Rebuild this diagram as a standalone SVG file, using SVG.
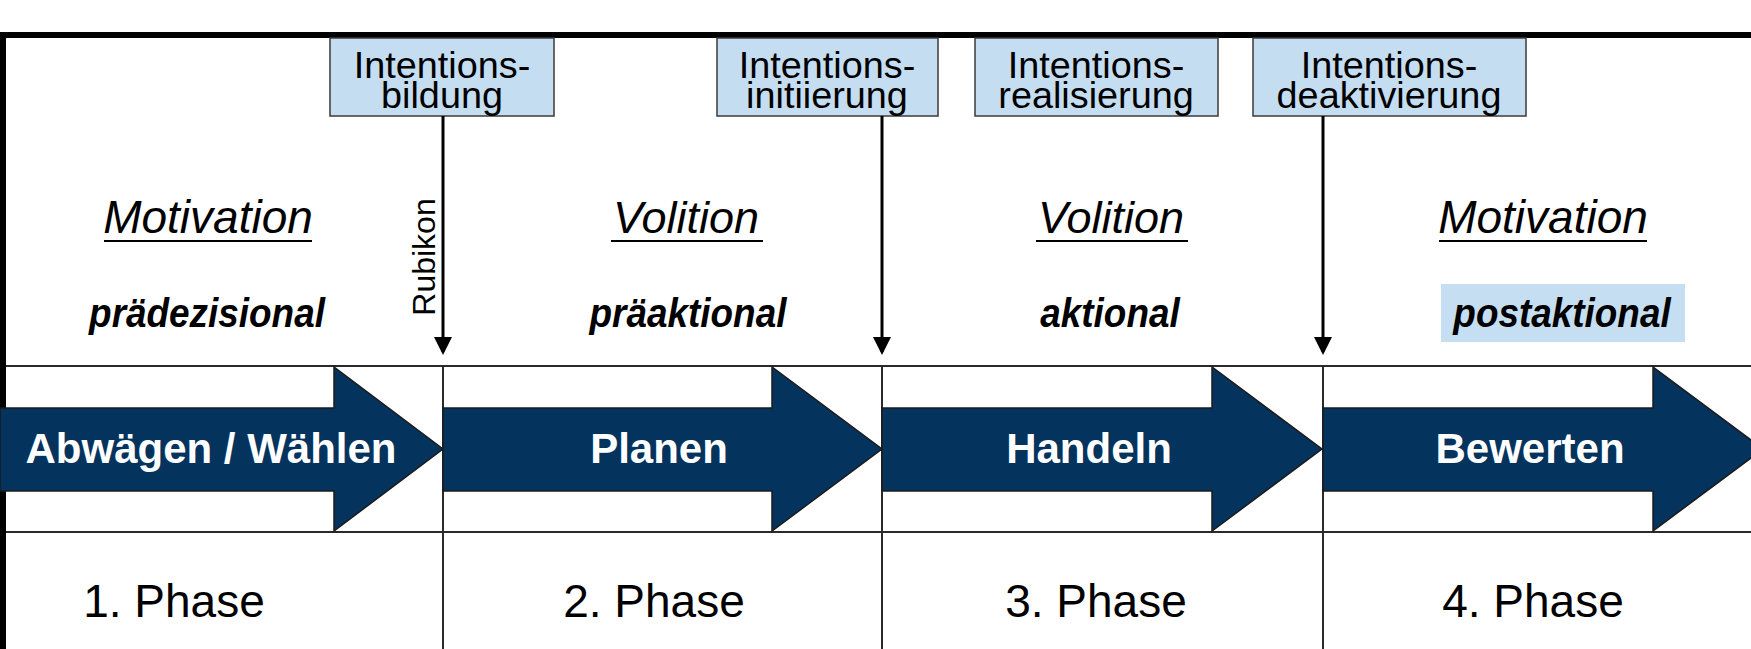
<svg xmlns="http://www.w3.org/2000/svg" width="1751" height="649" viewBox="0 0 1751 649">
<style>
text{font-family:"Liberation Sans",Arial,sans-serif}
.box{fill:#C5DDF1;stroke:#3a3a3a;stroke-width:1.5}
.bt{font-size:36px;fill:#000;text-anchor:middle}
.mot{font-size:46px;font-style:italic;text-anchor:middle}
.vol{font-size:45px;font-style:italic;text-anchor:middle}
.sub{font-size:41px;font-style:italic;font-weight:bold;text-anchor:middle}
.arr{fill:#04335E;stroke:#1b1b1b;stroke-width:1.5}
.at{font-size:42px;font-weight:bold;fill:#fff;text-anchor:middle}
.ph{font-size:46px;text-anchor:middle}
.grid{stroke:#2a2a2a;stroke-width:2;fill:none}
.vl{stroke:#000;stroke-width:3}
.ul{stroke:#000;stroke-width:2}
</style>
<defs>
<marker id="ah" markerWidth="6" markerHeight="6" refX="5" refY="3" orient="auto" markerUnits="strokeWidth"><path d="M0,0 L6,3 L0,6 z" fill="#000"/></marker>
</defs>
<rect x="0" y="0" width="1751" height="649" fill="#fff"/>
<g id="frame">
<line class="grid" x1="0" y1="366" x2="1751" y2="366"/>
<line class="grid" x1="0" y1="532" x2="1751" y2="532"/>
<line class="grid" x1="443" y1="366" x2="443" y2="649"/>
<line class="grid" x1="882" y1="366" x2="882" y2="649"/>
<line class="grid" x1="1323" y1="366" x2="1323" y2="649"/>
<rect x="0" y="32" width="1751" height="6" fill="#000"/>
<rect x="0" y="32" width="6" height="617" fill="#000"/>
</g>
<g id="box1"><rect class="box" x="330" y="38" width="224" height="78"/><text class="bt" transform="translate(442,78) scale(1.05,1)">Intentions-</text><text class="bt" transform="translate(442,108) scale(1.05,1)">bildung</text></g>
<g id="box2"><rect class="box" x="717" y="38" width="221" height="78"/><text class="bt" transform="translate(827,78) scale(1.05,1)">Intentions-</text><text class="bt" transform="translate(827,108) scale(1.05,1)">initiierung</text></g>
<g id="box3"><rect class="box" x="975" y="38" width="243" height="78"/><text class="bt" transform="translate(1096,78) scale(1.05,1)">Intentions-</text><text class="bt" transform="translate(1096,108) scale(1.05,1)">realisierung</text></g>
<g id="box4"><rect class="box" x="1253" y="38" width="273" height="78"/><text class="bt" transform="translate(1389,78) scale(1.05,1)">Intentions-</text><text class="bt" transform="translate(1389,108) scale(1.05,1)">deaktivierung</text></g>
<g id="connectors">
<line class="vl" x1="443" y1="116" x2="443" y2="352" marker-end="url(#ah)"/>
<line class="vl" x1="882" y1="116" x2="882" y2="352" marker-end="url(#ah)"/>
<line class="vl" x1="1323" y1="116" x2="1323" y2="352" marker-end="url(#ah)"/>
</g>
<g id="rubikon"><text x="435" y="257" font-size="32" text-anchor="middle" transform="rotate(-90 435 257)">Rubikon</text></g>
<g id="col1"><text class="mot" x="208" y="233">Motivation</text><line class="ul" x1="104" y1="241" x2="312" y2="241"/><text class="sub" transform="translate(207,327) scale(0.9,1)">prädezisional</text></g>
<g id="col2"><text class="vol" x="686" y="233">Volition</text><line class="ul" x1="611" y1="241" x2="763" y2="241"/><text class="sub" transform="translate(688,327) scale(0.9,1)">präaktional</text></g>
<g id="col3"><text class="vol" x="1111" y="233">Volition</text><line class="ul" x1="1036" y1="241" x2="1188" y2="241"/><text class="sub" transform="translate(1110,327) scale(0.9,1)">aktional</text></g>
<g id="col4"><text class="mot" x="1543" y="233">Motivation</text><line class="ul" x1="1439" y1="241" x2="1647" y2="241"/><rect x="1441" y="284" width="244" height="58" fill="#C6DEF2"/><text class="sub" transform="translate(1562,327) scale(0.9,1)">postaktional</text></g>
<g id="arrow1"><path class="arr" d="M0,408 H334 V367 L443,449 L334,531 V491 H0 Z"/><text class="at" x="211" y="463">Abwägen / Wählen</text></g>
<g id="arrow2"><path class="arr" d="M443,408 H772 V367 L882,449 L772,531 V491 H443 Z"/><text class="at" x="659" y="463">Planen</text></g>
<g id="arrow3"><path class="arr" d="M882,408 H1212 V367 L1322,449 L1212,531 V491 H882 Z"/><text class="at" x="1089" y="463">Handeln</text></g>
<g id="arrow4"><path class="arr" d="M1323,408 H1653 V367 L1763,449 L1653,531 V491 H1323 Z"/><text class="at" x="1530" y="463">Bewerten</text></g>
<g id="phases">
<text class="ph" x="174" y="617">1. Phase</text>
<text class="ph" x="654" y="617">2. Phase</text>
<text class="ph" x="1096" y="617">3. Phase</text>
<text class="ph" x="1533" y="617">4. Phase</text>
</g>
</svg>
